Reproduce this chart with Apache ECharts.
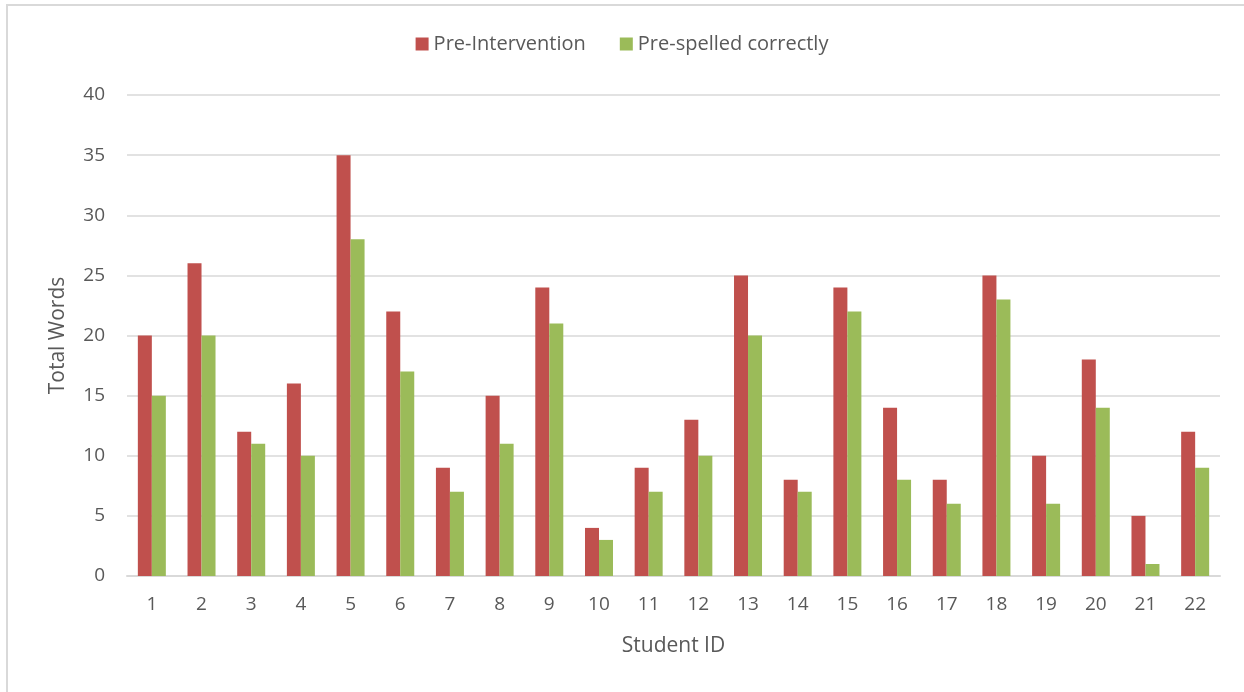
<!DOCTYPE html>
<html>
<head>
<meta charset="utf-8">
<script src="https://cdn.jsdelivr.net/npm/echarts@6/dist/echarts.min.js"></script>
<style>
  html, body { margin: 0; padding: 0; background: #fff; }
  #frame { position: absolute; left: 6px; top: 4px; width: 1260px; height: 720px; border: 2px solid #d9d9d9; box-sizing: border-box; }
  #chart { position: absolute; left: 0; top: 0; width: 1244px; height: 692px; }
</style>
</head>
<body>
<div id="frame"></div>
<div id="chart"></div>
<script>
// Student IDs along the x axis
const studentIds = ['1','2','3','4','5','6','7','8','9','10','11','12','13','14','15','16','17','18','19','20','21','22'];
// Total words written before the intervention
const preIntervention = [20, 26, 12, 16, 35, 22, 9, 15, 24, 4, 9, 13, 25, 8, 24, 14, 8, 25, 10, 18, 5, 12];
// Words spelled correctly before the intervention
const preSpelledCorrectly = [15, 20, 11, 10, 28, 17, 7, 11, 21, 3, 7, 10, 20, 7, 22, 8, 6, 23, 6, 14, 1, 9];
const seriesNames = ['Pre-Intervention', 'Pre-spelled correctly'];

const font = '"Open Sans", "Liberation Sans", sans-serif';
const textColor = '#595959';

const chart = echarts.init(document.getElementById('chart'), null, { renderer: 'canvas' });
chart.setOption({
  animation: false,
  backgroundColor: 'transparent',
  textStyle: { fontFamily: font, color: textColor },
  legend: {
    top: 29,
    left: 'center',
    itemWidth: 13,
    itemHeight: 13,
    itemGap: 34,
    icon: 'rect',
    textStyle: { fontSize: 20, color: textColor, fontFamily: font },
    data: seriesNames
  },
  grid: { left: 127, right: 24, top: 95, bottom: 116 },
  xAxis: {
    type: 'category',
    data: studentIds,
    name: 'Student ID',
    nameLocation: 'middle',
    nameGap: 60,
    nameTextStyle: { fontSize: 21, color: textColor, fontFamily: font },
    axisLine: { lineStyle: { color: '#d9d9d9', width: 2 } },
    axisTick: { show: false },
    axisLabel: { fontSize: 19, color: textColor, margin: 19, fontFamily: font }
  },
  yAxis: {
    type: 'value',
    min: 0,
    max: 40,
    interval: 5,
    name: 'Total Words',
    nameLocation: 'middle',
    nameGap: 58,
    nameTextStyle: { fontSize: 21, color: textColor, fontFamily: font },
    axisLine: { show: false },
    axisTick: { show: false },
    axisLabel: { fontSize: 19, color: textColor, margin: 22, fontFamily: font },
    splitLine: { lineStyle: { color: '#d9d9d9', width: 1.5 } }
  },
  series: [
    {
      name: seriesNames[0],
      type: 'bar',
      data: preIntervention,
      barWidth: 14,
      barGap: '0%',
      itemStyle: { color: '#C0504D' }
    },
    {
      name: seriesNames[1],
      type: 'bar',
      data: preSpelledCorrectly,
      barWidth: 14,
      barGap: '0%',
      itemStyle: { color: '#9BBB59' }
    }
  ]
});
</script>
</body>
</html>
